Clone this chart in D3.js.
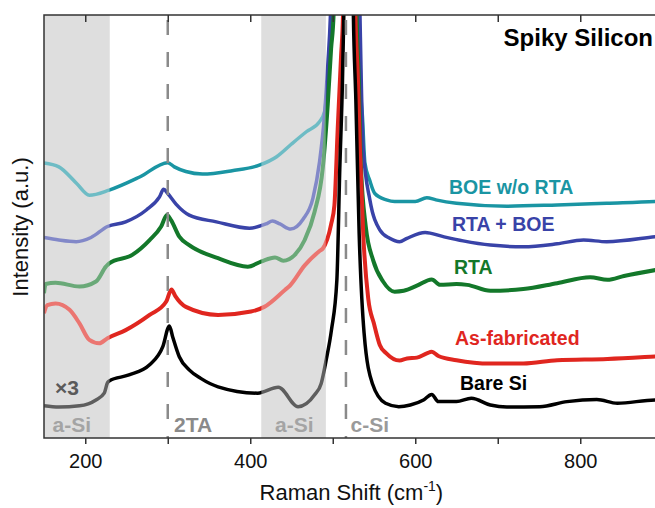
<!DOCTYPE html>
<html>
<head>
<meta charset="utf-8">
<script src="https://cdn.jsdelivr.net/npm/d3@7/dist/d3.min.js"></script>
<style>
  body { margin: 0; background: #fff; }
  text { font-family: "Liberation Sans", Arial, Helvetica, sans-serif; }
</style>
</head>
<body>
<div id="chart"></div>
<script>
// Raman spectra: [shift (cm-1), intensity (a.u.)]
// points above 100 sit past the top of the frame (c-Si peak is clipped)
const boeNoRta = [[150,65.0],[168,64.1],[189,60.3],[205,57.4],[229,58.6],[266,61.7],[300,65.1],[308,64.1],[322,63.0],[342,62.4],[378,63.2],[411,64.5],[432,66.5],[450,69.5],[468,72.4],[484,74.8],[490,77.1],[494,84.2],[498.4,96.1],[499.6,100],[503,130],[516,300],[529,130],[532,100],[534,82],[536,76],[539,65],[545,60.8],[551,57.8],[565,56.3],[575,55.9],[600,55.9],[614,56.8],[625,56.3],[650,55.5],[711,54.8],[772,55.1],[832,55.5],[891,55.9],[900,56.0]];
const rtaBoe = [[150,47.4],[168,46.8],[189,46.4],[207,47.4],[227,50.0],[249,51.1],[274,53.9],[290,57.0],[295,58.8],[300,57.8],[310,55.3],[326,52.7],[359,51.1],[399,49.6],[419,50.6],[427,51.3],[436,50.6],[449,49.4],[464,51.7],[476,56.7],[484,65.3],[490,76.4],[494,88.2],[497.2,100],[501,130],[515,300],[530,130],[533,100],[534.5,85],[537,68.1],[545,56.3],[557,49.2],[569,47.2],[581,46.4],[590,47.2],[612,48.6],[634,47.6],[658,46.6],[691,45.6],[731,45.2],[772,45.9],[804,46.8],[832,46.4],[891,47.6],[900,47.8]];
const rta = [[150,34.2],[152,36.4],[164,36.7],[193,35.8],[213,37.0],[225,40.5],[229,41.3],[257,43.3],[278,46.8],[292,50.0],[299,52.7],[304,51.5],[314,47.6],[326,45.6],[361,42.5],[397,40.5],[413,41.7],[430,42.7],[440,41.9],[454,43.3],[466,46.8],[478,53.5],[488,64.0],[494,79.0],[498,92.0],[501,100],[504,130],[515,300],[527,130],[529,100],[531.5,85],[534,65],[540,50],[549,42],[561,37],[575,34.6],[586,34.8],[602,36.0],[620,37.5],[630,36.2],[650,36.4],[663,36.2],[691,34.8],[731,35.2],[772,36.6],[812,38.0],[833,37.4],[853,38.3],[891,39.7],[900,40.0]];
const asFabricated = [[150,29.5],[154,31.4],[164,31.8],[181,30.3],[193,27.1],[205,23.2],[217,22.4],[227,23.6],[249,25.5],[278,29.1],[298,32.2],[304.5,35.1],[309,33.6],[322,31.0],[361,29.1],[401,29.9],[417,31.0],[442,35.0],[448,36.0],[466,40.8],[484,44.2],[488,44.8],[498,50.5],[502,55.0],[506,73.0],[510,90.0],[512.4,100],[514,130],[520,300],[525,130],[527.5,100],[530.5,85],[533,68],[537,48],[543,33],[550,27],[557,22],[565,20],[581,18.3],[590,18.8],[602,19.0],[614,20.0],[620,20.4],[628,19.4],[650,18.4],[691,17.6],[731,17.6],[772,18.4],[833,18.7],[891,19.3],[900,19.4]];
const bareSi = [[150,7.6],[168,7.3],[193,7.6],[213,9.0],[223,10.6],[227,13.1],[229,13.5],[253,14.9],[278,17.3],[294,21.6],[302,26.5],[306,23.9],[314,19.2],[326,16.1],[340,14.1],[361,12.1],[409,10.6],[434,12.0],[458,7.4],[478,10.2],[486,12.9],[492,18.4],[498.4,25.5],[505,37.4],[508.5,63.4],[511.8,84.6],[513.4,100],[515.5,130],[519,300],[523,130],[525,100],[528,80],[532,48.4],[538,24.8],[548,12.9],[564,8.2],[580,7.4],[594,7.8],[610,9.0],[620,10.3],[628,8.6],[650,8.6],[668,9.4],[691,7.8],[711,7.3],[751,7.4],[784,8.6],[820,9.1],[845,8.2],[891,9.0],[900,9.0]];

const seriesNames = ["BOE w/o RTA", "RTA + BOE", "RTA", "As-fabricated", "Bare Si"];
const aSiBands = [[150, 229.5], [413.5, 491.5]];
const modeLines = [300, 516];
const modeNames = ["2TA", "c-Si"];
const shiftTicks = [200, 300, 400, 500, 600, 700, 800];
const shiftLabels = [200, 400, 600, 800];

const width = 655, height = 508;
const margin = { left: 44, top: 15, bottom: 70 };
const plotRight = 662.75;   // frame runs past the right edge of the picture
const innerH = height - margin.top - margin.bottom;

const colors = ["#1a95a3", "#3943a8", "#13782a", "#e0261f", "#000000"];
const labelPos = [[449, 194], [452, 231], [454, 274], [455, 345], [460, 390]];

const svg = d3.select("#chart").append("svg")
  .attr("width", width).attr("height", height);

const x = d3.scaleLinear().domain([150, 900]).range([margin.left, plotRight]);
const y = d3.scaleLinear().domain([0, 100]).range([margin.top + innerH, margin.top]);

svg.append("clipPath").attr("id", "plotClip")
  .append("rect")
  .attr("x", margin.left).attr("y", margin.top)
  .attr("width", plotRight - margin.left).attr("height", innerH);

const plot = svg.append("g").attr("clip-path", "url(#plotClip)");

// grey a-Si bands (base layer)
plot.selectAll(".band").data(aSiBands).join("rect")
  .attr("class", "band")
  .attr("x", d => x(d[0])).attr("width", d => x(d[1]) - x(d[0]))
  .attr("y", margin.top).attr("height", innerH)
  .attr("fill", "#cbcbcb");

const table = [boeNoRta, rtaBoe, rta, asFabricated, bareSi].map((d, i) => ({
  name: seriesNames[i], values: d, color: colors[i]
}));

const line = d3.line()
  .x(d => x(d[0]))
  .y(d => y(d[1]))
  .curve(d3.curveMonotoneX);

plot.selectAll(".spectrum").data(table).join("path")
  .attr("class", "spectrum")
  .attr("d", d => line(d.values))
  .attr("fill", "none")
  .attr("stroke", d => d.color)
  .attr("stroke-width", (d, i) => (i === 2 || i === 3) ? 4 : 3.5)
  .attr("stroke-linejoin", "round");

// light wash over the bands so the curves fade inside them
plot.selectAll(".wash").data(aSiBands).join("rect")
  .attr("class", "wash")
  .attr("x", d => x(d[0])).attr("width", d => x(d[1]) - x(d[0]))
  .attr("y", margin.top).attr("height", innerH)
  .attr("fill", "#fff").attr("opacity", 0.37);

// dashed phonon mode markers
plot.selectAll(".mode").data(modeLines).join("line")
  .attr("class", "mode")
  .attr("x1", d => x(d)).attr("x2", d => x(d))
  .attr("y1", margin.top).attr("y2", margin.top + innerH)
  .attr("stroke", "#8a8a8a")
  .attr("stroke-width", 2.5)
  .attr("stroke-dasharray", "15,17")
  .attr("stroke-dashoffset", 27);

// series labels
svg.selectAll(".slabel").data(table).join("text")
  .attr("class", "slabel")
  .attr("x", (d, i) => labelPos[i][0])
  .attr("y", (d, i) => labelPos[i][1])
  .attr("font-size", 19.5).attr("font-weight", "bold")
  .attr("fill", d => d.color)
  .text(d => d.name);

// annotations
const notes = [
  { t: "a-Si", x: 52.5, y: 432, c: "#a4a4a4" },
  { t: "a-Si", x: 275, y: 432, c: "#a4a4a4" },
  { t: modeNames[0], x: 174, y: 432, c: "#8a8a8a" },
  { t: modeNames[1], x: 350.5, y: 432, c: "#9a9a9a" },
  { t: "\u00d73", x: 55, y: 395, c: "#5a5a5a" }
];
svg.selectAll(".note").data(notes).join("text")
  .attr("class", "note")
  .attr("x", d => d.x).attr("y", d => d.y)
  .attr("font-size", 21).attr("font-weight", "bold")
  .attr("fill", d => d.c)
  .text(d => d.t);

// axes
const xAxis = d3.axisBottom(x)
  .tickValues(shiftTicks)
  .tickSize(6).tickPadding(10)
  .tickFormat(d => shiftLabels.includes(d) ? d : "");
const gx = svg.append("g")
  .attr("transform", `translate(0,${margin.top + innerH})`)
  .call(xAxis);
gx.select(".domain").remove();
gx.selectAll("line").attr("stroke", "#333").attr("stroke-width", 1.5);
gx.selectAll("text").attr("font-size", 20).attr("fill", "#111")
  .attr("font-family", "Liberation Sans, Arial, sans-serif");

const topAxis = d3.axisTop(x).tickValues(shiftTicks).tickSize(-7).tickFormat("");
const gt = svg.append("g")
  .attr("transform", `translate(0,${margin.top})`)
  .call(topAxis);
gt.select(".domain").remove();
gt.selectAll("line").attr("stroke", "#333").attr("stroke-width", 1.5);

// frame
svg.append("rect")
  .attr("x", margin.left).attr("y", margin.top)
  .attr("width", plotRight - margin.left).attr("height", innerH)
  .attr("fill", "none").attr("stroke", "#333").attr("stroke-width", 1.5);

// axis titles
const xt = svg.append("text")
  .attr("x", (margin.left + plotRight) / 2 - 2).attr("y", 500)
  .attr("text-anchor", "middle").attr("font-size", 22).attr("fill", "#111");
xt.append("tspan").text("Raman Shift (cm");
xt.append("tspan").attr("font-size", 14).attr("dy", -9).text("-1");
xt.append("tspan").attr("dy", 9).text(")");

svg.append("text")
  .attr("transform", `translate(28,227) rotate(-90)`)
  .attr("text-anchor", "middle").attr("font-size", 22).attr("fill", "#111")
  .text("Intensity (a.u.)");

svg.append("text")
  .attr("x", 653).attr("y", 46)
  .attr("text-anchor", "end").attr("font-size", 24).attr("font-weight", "bold")
  .attr("fill", "#000")
  .text("Spiky Silicon");
</script>
</body>
</html>
